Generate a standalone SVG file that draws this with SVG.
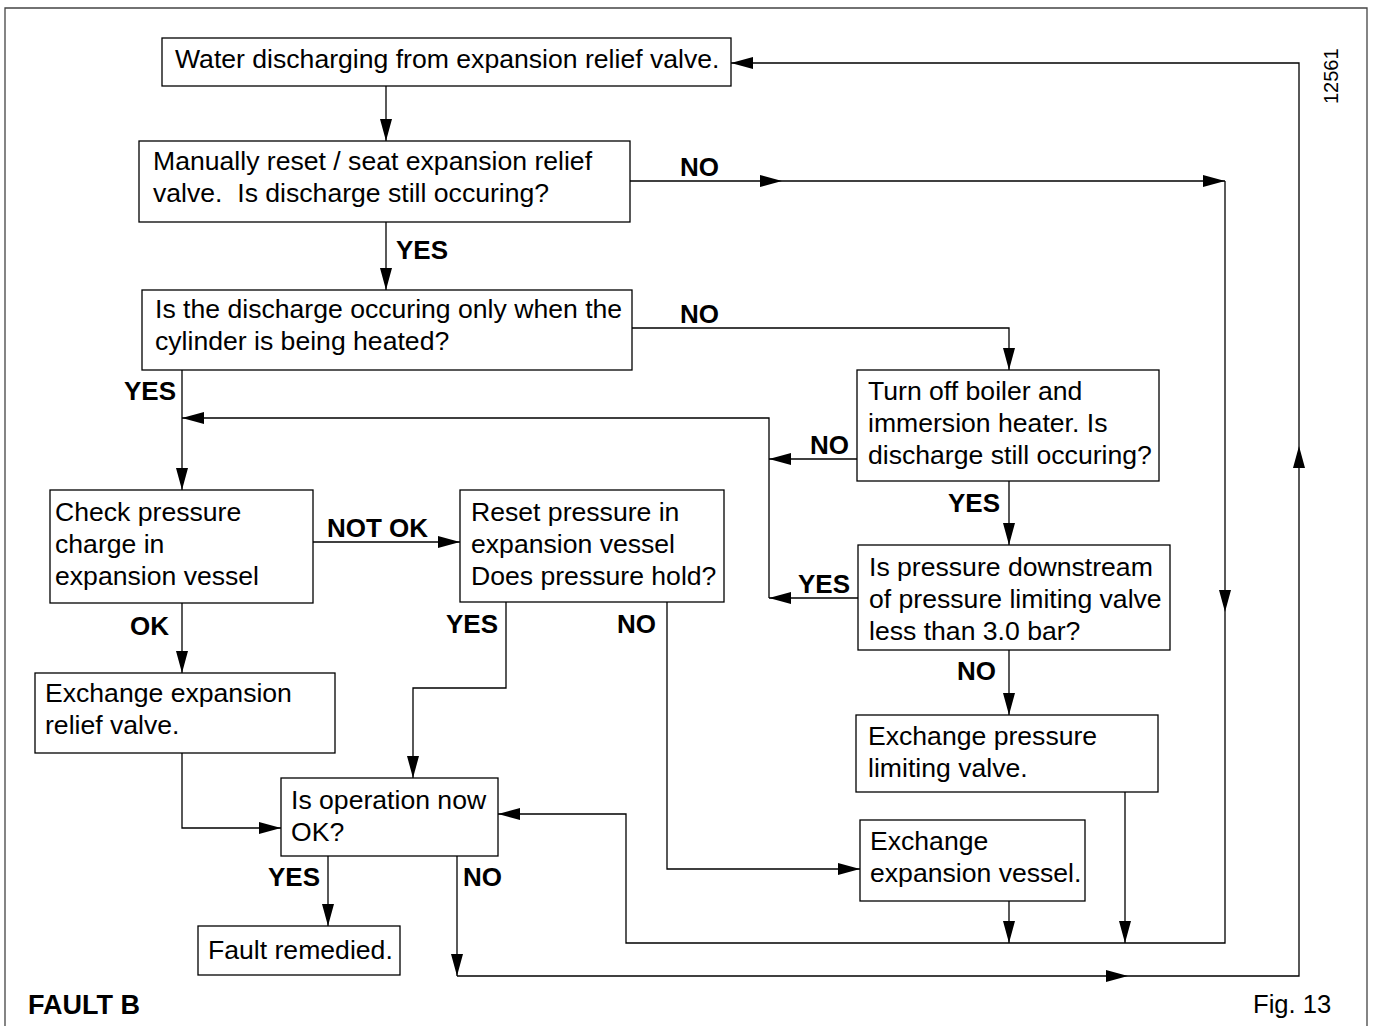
<svg xmlns="http://www.w3.org/2000/svg" width="1374" height="1026" viewBox="0 0 1374 1026">
<style>
.box{fill:#fff;stroke:#000;stroke-width:1.3}
.t{font-family:"Liberation Sans",Arial,sans-serif;font-size:26.6px;fill:#000}
.l{font-family:"Liberation Sans",Arial,sans-serif;font-size:26px;font-weight:bold;fill:#000}
.c{fill:none;stroke:#000;stroke-width:1.3}
</style>
<defs>
<marker id="a" markerWidth="22" markerHeight="12" refX="22" refY="6" orient="auto" markerUnits="userSpaceOnUse">
<path d="M0,0 L22,6 L0,12 Z" fill="#000"/>
</marker>
</defs>
<rect width="1374" height="1026" fill="#fff"/>
<path d="M5,1026 V8 H1367 V1026" fill="none" stroke="#444" stroke-width="1.3"/>
<g id="connectors">
<path class="c" d="M386,86 V141" marker-end="url(#a)"/>
<path class="c" d="M386,222 V290" marker-end="url(#a)"/>
<path class="c" d="M630,181 H782" marker-end="url(#a)"/>
<path class="c" d="M782,181 H1225" marker-end="url(#a)"/>
<path class="c" d="M1225,181 V612" marker-end="url(#a)"/>
<path class="c" d="M1225,612 V943 H626 V814 H498" marker-end="url(#a)"/>
<path class="c" d="M632,328 H1009 V370" marker-end="url(#a)"/>
<path class="c" d="M182,370 V490" marker-end="url(#a)"/>
<path class="c" d="M769,598 V418 H182" marker-end="url(#a)"/>
<path class="c" d="M857,459 H769" marker-end="url(#a)"/>
<path class="c" d="M858,598 H769" marker-end="url(#a)"/>
<path class="c" d="M1009,481 V545" marker-end="url(#a)"/>
<path class="c" d="M313,542 H460" marker-end="url(#a)"/>
<path class="c" d="M182,603 V673" marker-end="url(#a)"/>
<path class="c" d="M506,602 V688 H413 V778" marker-end="url(#a)"/>
<path class="c" d="M667,602 V869 H860" marker-end="url(#a)"/>
<path class="c" d="M1009,650 V715" marker-end="url(#a)"/>
<path class="c" d="M182,753 V828 H281" marker-end="url(#a)"/>
<path class="c" d="M328,856 V926" marker-end="url(#a)"/>
<path class="c" d="M457,856 V976" marker-end="url(#a)"/>
<path class="c" d="M457,976 H1128" marker-end="url(#a)"/>
<path class="c" d="M1128,976 H1299 V446" marker-end="url(#a)"/>
<path class="c" d="M1299,446 V63 H731" marker-end="url(#a)"/>
<path class="c" d="M1009,901 V943" marker-end="url(#a)"/>
<path class="c" d="M1125,792 V943" marker-end="url(#a)"/>
<text class="l" x="680" y="176">NO</text>
<text class="l" x="396" y="259">YES</text>
<text class="l" x="680" y="323">NO</text>
<text class="l" x="124" y="400">YES</text>
<text class="l" x="810" y="454">NO</text>
<text class="l" x="948" y="512">YES</text>
<text class="l" x="798" y="593">YES</text>
<text class="l" x="327" y="537">NOT OK</text>
<text class="l" x="130" y="635">OK</text>
<text class="l" x="446" y="633">YES</text>
<text class="l" x="617" y="633">NO</text>
<text class="l" x="957" y="680">NO</text>
<text class="l" x="268" y="886">YES</text>
<text class="l" x="463" y="886">NO</text>
</g>
<g id="n1"><rect class="box" x="162" y="38" width="569" height="48"/><text class="t" x="175" y="68">Water discharging from expansion relief valve.</text></g>
<g id="n2"><rect class="box" x="139" y="141" width="491" height="81"/><text class="t" x="153" y="170">Manually reset / seat expansion relief</text><text class="t" x="153" y="202">valve.&#160; Is discharge still occuring?</text></g>
<g id="n3"><rect class="box" x="142" y="290" width="490" height="80"/><text class="t" x="155" y="318">Is the discharge occuring only when the</text><text class="t" x="155" y="350">cylinder is being heated?</text></g>
<g id="n4"><rect class="box" x="857" y="370" width="302" height="111"/><text class="t" x="868" y="400">Turn off boiler and</text><text class="t" x="868" y="432">immersion heater. Is</text><text class="t" x="868" y="464">discharge still occuring?</text></g>
<g id="n5"><rect class="box" x="50" y="490" width="263" height="113"/><text class="t" x="55" y="521">Check pressure</text><text class="t" x="55" y="553">charge in</text><text class="t" x="55" y="585">expansion vessel</text></g>
<g id="n6"><rect class="box" x="460" y="490" width="264" height="112"/><text class="t" x="471" y="521">Reset pressure in</text><text class="t" x="471" y="553">expansion vessel</text><text class="t" x="471" y="585">Does pressure hold?</text></g>
<g id="n7"><rect class="box" x="858" y="545" width="312" height="105"/><text class="t" x="869" y="576">Is pressure downstream</text><text class="t" x="869" y="608">of pressure limiting valve</text><text class="t" x="869" y="640">less than 3.0 bar?</text></g>
<g id="n8"><rect class="box" x="35" y="673" width="300" height="80"/><text class="t" x="45" y="702">Exchange expansion</text><text class="t" x="45" y="734">relief valve.</text></g>
<g id="n9"><rect class="box" x="856" y="715" width="302" height="77"/><text class="t" x="868" y="745">Exchange pressure</text><text class="t" x="868" y="777">limiting valve.</text></g>
<g id="n10"><rect class="box" x="281" y="778" width="217" height="78"/><text class="t" x="291" y="809">Is operation now</text><text class="t" x="291" y="841">OK?</text></g>
<g id="n11"><rect class="box" x="860" y="820" width="225" height="81"/><text class="t" x="870" y="850">Exchange</text><text class="t" x="870" y="882">expansion vessel.</text></g>
<g id="n12"><rect class="box" x="198" y="926" width="202" height="49"/><text class="t" x="208" y="959">Fault remedied.</text></g>
<text class="t" x="0" y="0" transform="translate(1338,104) rotate(-90)" style="font-size:20px">12561</text>
<text class="l" x="28" y="1014" style="font-size:27px">FAULT B</text>
<text class="t" x="1253" y="1013" style="font-size:25.6px">Fig. 13</text>
</svg>
